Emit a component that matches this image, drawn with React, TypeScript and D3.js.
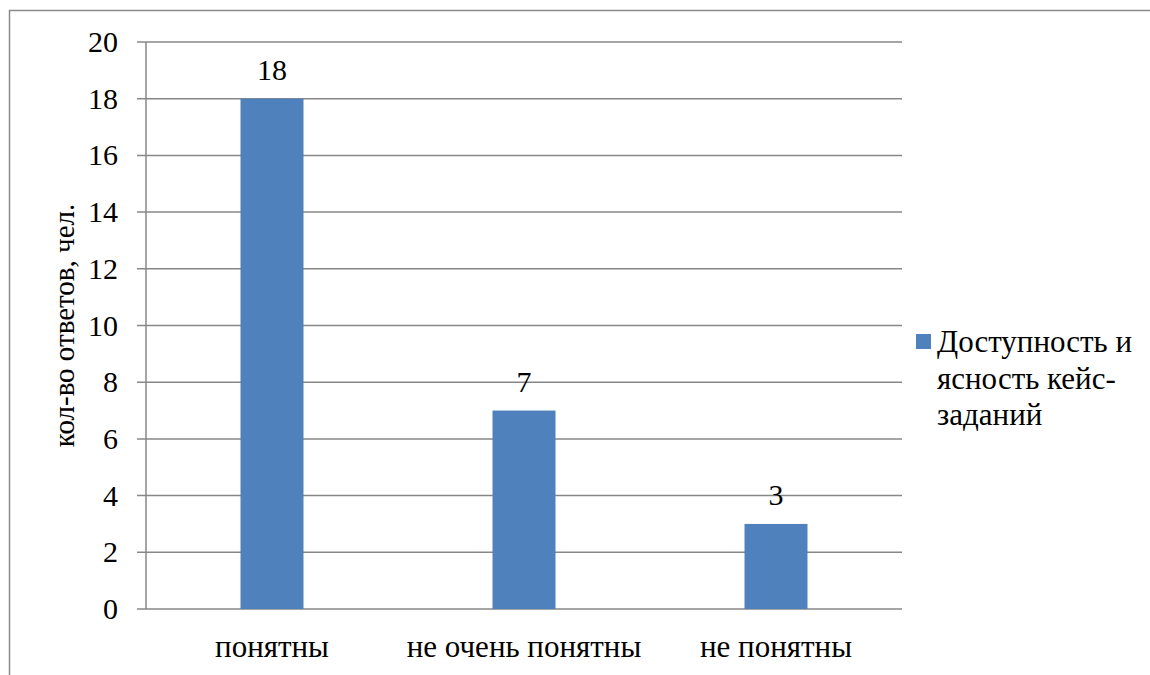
import React, { useEffect, useRef } from "react";
import * as d3 from "d3";

const categories = ["понятны", "не очень понятны", "не понятны"];
const values = [18, 7, 3];
const yTicks = [0, 2, 4, 6, 8, 10, 12, 14, 16, 18, 20];
const seriesName = ["Доступность и", "ясность кейс-", "заданий"];
const yTitle = "кол-во ответов, чел.";

const W = 1150;
const H = 675;
const FONT = "Liberation Serif, Tinos, DejaVu Serif, serif";

export default function App() {
  const ref = useRef<SVGSVGElement | null>(null);

  useEffect(() => {
    const svg = d3.select(ref.current);
    svg.selectAll("*").remove();

    const left = 146, right = 902, top = 42, bottom = 609;
    const x = d3.scaleBand<string>().domain(categories).range([left, right]).paddingInner(0).paddingOuter(0);
    const y = d3.scaleLinear().domain([0, 20]).range([bottom, top]);
    const barW = 63;

    const txt = (sel: any, size: number) =>
      sel.style("font-family", FONT).style("font-size", `${size}px`).attr("fill", "#000");

    // frame
    svg.append("path")
      .attr("d", `M9.5,${H + 5} L9.5,10.5 L${W + 5},10.5`)
      .attr("fill", "none")
      .attr("stroke", "#8a8a8a")
      .attr("stroke-width", 1.5);

    // gridlines + ticks
    const g = svg.append("g");
    yTicks.forEach((t) => {
      g.append("line")
        .attr("x1", left - 9).attr("x2", right)
        .attr("y1", y(t)).attr("y2", y(t))
        .attr("stroke", "#878787").attr("stroke-width", 1.5);
      txt(g.append("text")
        .attr("x", 118).attr("y", y(t) + 10)
        .attr("text-anchor", "end"), 30)
        .text(String(t));
    });
    g.append("line")
      .attr("x1", left).attr("x2", left)
      .attr("y1", top).attr("y2", bottom)
      .attr("stroke", "#878787").attr("stroke-width", 1.5);

    // bars
    categories.forEach((c, i) => {
      const cx = (x(c) as number) + x.bandwidth() / 2;
      svg.append("rect")
        .attr("x", cx - barW / 2)
        .attr("y", y(values[i]))
        .attr("width", barW)
        .attr("height", y(0) - y(values[i]))
        .attr("fill", "#4f81bd");
      txt(svg.append("text")
        .attr("x", cx).attr("y", y(values[i]) - 19)
        .attr("text-anchor", "middle"), 30)
        .text(String(values[i]));
      txt(svg.append("text")
        .attr("x", cx).attr("y", 657)
        .attr("text-anchor", "middle"), 31)
        .text(c);
    });

    // y title
    txt(svg.append("text")
      .attr("transform", `translate(74,${(top + bottom) / 2}) rotate(-90)`)
      .attr("text-anchor", "middle"), 29)
      .text(yTitle);

    // legend
    svg.append("rect")
      .attr("x", 916).attr("y", 334)
      .attr("width", 15).attr("height", 15)
      .attr("fill", "#4f81bd");
    seriesName.forEach((line, i) => {
      txt(svg.append("text")
        .attr("x", 937).attr("y", 352 + i * 36.5), 31)
        .text(line);
    });
  }, []);

  return (
    <svg
      ref={ref}
      width={W}
      height={H}
      style={{ position: "absolute", left: 0, top: 0, background: "#fff" }}
    />
  );
}
